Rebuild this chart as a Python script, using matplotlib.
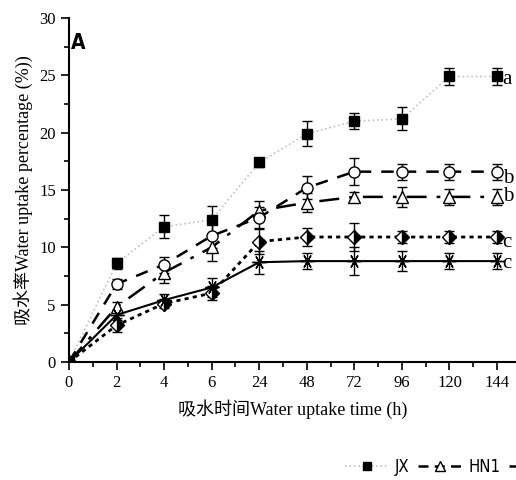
import matplotlib
matplotlib.use('Agg')
import matplotlib.pyplot as plt
from matplotlib.lines import Line2D
from matplotlib.ticker import MultipleLocator

# x categories (hours), plotted at equal spacing
hours = ['0', '2', '4', '6', '24', '48', '72', '96', '120', '144']

jx = [0, 8.6, 11.8, 12.4, 17.4, 19.9, 21.0, 21.2, 24.9, 24.9]
jx_err = [0, 0.5, 1.0, 1.2, 0.4, 1.1, 0.7, 1.0, 0.7, 0.7]

circ = [0, 6.8, 8.5, 11.0, 12.6, 15.2, 16.6, 16.6, 16.6, 16.6]
circ_err = [0, 0.4, 0.7, 1.1, 0.9, 1.0, 1.2, 0.7, 0.7, 0.7]

hn1 = [0, 4.8, 7.8, 10.0, 13.2, 13.9, 14.4, 14.4, 14.4, 14.4]
hn1_err = [0, 0.4, 0.9, 1.2, 0.8, 0.8, 0.4, 0.9, 0.7, 0.7]

diam = [0, 3.2, 5.1, 6.0, 10.5, 10.9, 10.9, 10.9, 10.9, 10.9]
diam_err = [0, 0.6, 0.4, 0.6, 1.1, 0.8, 1.2, 0.5, 0.5, 0.5]

star = [0, 4.1, 5.4, 6.5, 8.7, 8.8, 8.8, 8.8, 8.8, 8.8]
star_err = [0, 0.4, 0.5, 0.8, 1.0, 0.7, 1.2, 0.9, 0.7, 0.7]

letters = ['a', 'b', 'b', 'c', 'c']
letter_y = [24.6, 16.0, 14.4, 10.4, 8.6]

serif = ['Liberation Serif', 'Noto Sans CJK SC']
narrow = ['DejaVu Sans']

fig = plt.figure(figsize=(5.16, 4.8), dpi=100)
ax = fig.add_axes([0.1337, 0.2458, 0.8663, 0.7167])

x = list(range(len(hours)))
ekw = dict(ecolor='black', elinewidth=1, capsize=3.5, capthick=1)

styles = {
    'JX': dict(color='#c0c0c0', ls=':', lw=1.2, marker='s', ms=7, mfc='black', mec='black'),
    'HN1': dict(color='black', ls=(0, (8, 4, 1.5, 4)), lw=1.8, marker='^', ms=8,
                mfc='white', mec='black'),
    'HN2': dict(color='black', ls=(0, (5, 4)), lw=1.8, marker='o', ms=8,
                mfc='white', mec='black'),
    'HN3': dict(color='black', ls=(0, (1.5, 1.5)), lw=2, marker='D', ms=7,
                fillstyle='right', mfc='black', mfcalt='white', mec='black'),
    'HN4': dict(color='black', ls='-', lw=1.5, marker=(6, 2, 30), ms=10,
                mec='black', mew=1),
}
series = {'JX': (jx, jx_err), 'HN1': (hn1, hn1_err), 'HN2': (circ, circ_err),
          'HN3': (diam, diam_err), 'HN4': (star, star_err)}

handles = []
for name, (vals, errs) in series.items():
    ax.errorbar(x, vals, yerr=errs, **styles[name], **ekw)
    st = dict(styles[name])
    st['ms'] = st['ms'] - 1
    if name == 'HN1':
        st['ls'] = (0, (4, 2.5))
    handles.append(Line2D([], [], label=name, **st))

for lab, yy in zip(letters, letter_y):
    ax.text(9.12, yy, lab, fontsize=15, family=serif, va='center', ha='left')

ax.text(0.05, 27.8, 'A', fontsize=15, fontweight='bold', family=narrow,
        fontstretch='condensed', va='center')

ax.set_xlim(0, 9.4)
ax.set_ylim(0, 30)
ax.set_xticks(x)
ax.set_xticklabels(hours)
ax.xaxis.set_minor_locator(MultipleLocator(0.5))
ax.yaxis.set_major_locator(MultipleLocator(5))
ax.yaxis.set_minor_locator(MultipleLocator(2.5))
ax.tick_params(which='major', direction='out', length=6, width=1.2, labelsize=12)
ax.tick_params(which='minor', direction='out', length=3.5, width=1.2)
for lbl in ax.get_xticklabels() + ax.get_yticklabels():
    lbl.set_family(serif)

for s in ['top', 'right']:
    ax.spines[s].set_visible(False)
for s in ['left', 'bottom']:
    ax.spines[s].set_linewidth(1.5)

ax.set_xlabel('吸水时间Water uptake time (h)', fontsize=13, family=serif, labelpad=6)
ax.set_ylabel('吸水率Water uptake percentage (%))', fontsize=13, family=serif, labelpad=4)

fig.legend(handles=handles, loc='center left',
           bbox_to_anchor=(0.64, 0.027), ncol=5, frameon=False,
           prop={'family': narrow, 'size': 12, 'stretch': 'condensed'},
           handlelength=2.6, handletextpad=0.4, columnspacing=0.5)

fig.savefig('out.png', dpi=100)
